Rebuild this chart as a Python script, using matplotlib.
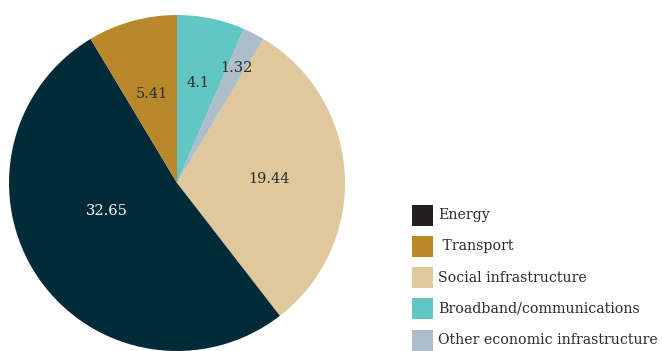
import numpy as np
import matplotlib
matplotlib.use("Agg")
import matplotlib.pyplot as plt
from matplotlib.patches import Rectangle

# data, clockwise from 12 o'clock
labels = ["Broadband/communications", "Other economic infrastructure",
          "Social infrastructure", "Energy", " Transport"]
values = [4.1, 1.32, 19.44, 32.65, 5.41]
colors = ["#62c6c2", "#adbdc9", "#dfc89b", "#022b3a", "#b8892a"]
text_colors = ["#2a2a2a", "#2a2a2a", "#2a2a2a", "#ffffff", "#2a2a2a"]
label_r = [0.61, 0.77, 0.55, 0.45, 0.55]
label_dang = [0, 0, -1, -13, 0]

legend_order = [3, 4, 2, 0, 1]
legend_colors = {3: "#231f20"}

plt.rcParams['font.family'] = ['DejaVu Serif']

W, H = 662, 351
fig = plt.figure(figsize=(W/100, H/100), dpi=100)
ax = fig.add_axes([9/W, 0, 336/W, 336/H])
wedges, _ = ax.pie(values, colors=colors, startangle=90, counterclock=False,
                   radius=1, wedgeprops=dict(linewidth=0))
ax.set_xlim(-1, 1)
ax.set_ylim(-1, 1)
ax.set_aspect('equal')

for w, v, c, r, da in zip(wedges, values, text_colors, label_r, label_dang):
    ang = np.deg2rad((w.theta1 + w.theta2) / 2 + da)
    ax.text(r*np.cos(ang), r*np.sin(ang), str(v), ha='center', va='center',
            fontsize=10.5, color=c)

# legend drawn by hand
for k, i in enumerate(legend_order):
    yc = 215 + k*31.3
    fig.add_artist(Rectangle((412/W, 1 - (yc + 10.5)/H), 21/W, 21/H,
                             transform=fig.transFigure,
                             facecolor=legend_colors.get(i, colors[i]),
                             edgecolor='none'))
    fig.text(438/W, 1 - yc/H, labels[i], ha='left', va='center',
             fontsize=10.2, color='#2a2a2a')

fig.savefig("out.png", dpi=100)
